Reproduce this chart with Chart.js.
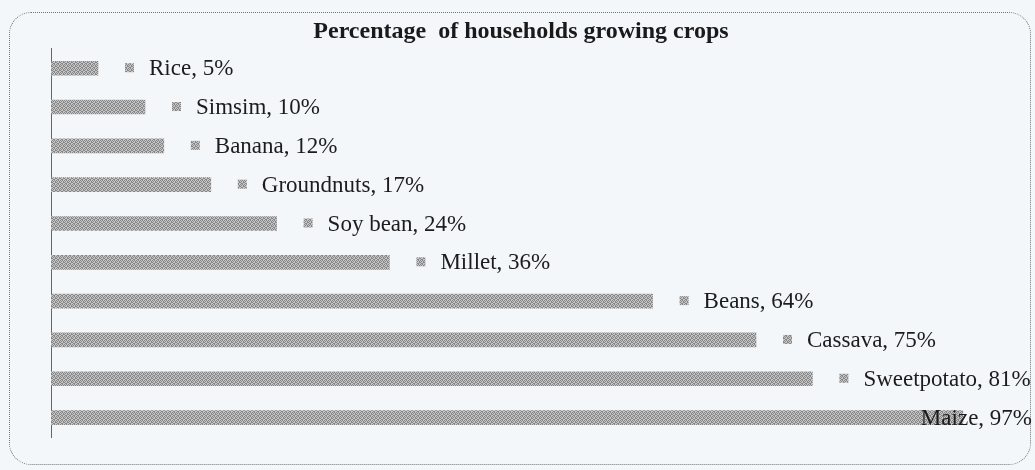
<!DOCTYPE html>
<html lang="en">
<head>
<meta charset="UTF-8">
<title>Percentage of households growing crops</title>
<style>
  html, body { margin: 0; padding: 0; background: #f3f7fa; }
  .frame { position: relative; width: 1035px; height: 470px; }
  .frame:before {
    content: '';
    position: absolute;
    left: 9px; top: 12px; right: 4px; bottom: 5px;
    border: 1px dotted #707478;
    border-radius: 22px;
  }
  canvas { position: absolute; left: 0; top: 0; }
</style>
</head>
<body>

<div class="frame"><canvas id="chart" width="1035" height="470"></canvas></div>

<script src="https://cdn.jsdelivr.net/npm/chart.js"></script>
<script>
  const crops = ['Rice', 'Simsim', 'Banana', 'Groundnuts', 'Soy bean', 'Millet', 'Beans', 'Cassava', 'Sweetpotato', 'Maize'];
  const percent = [5, 10, 12, 17, 24, 36, 64, 75, 81, 97];
  const axisRange = [0, 100];

  // halftone-ish grey like the scanned print
  const tile = document.createElement('canvas');
  tile.width = 4;
  tile.height = 4;
  const t = tile.getContext('2d');
  t.fillStyle = '#c6c6c6';
  t.fillRect(0, 0, 4, 4);
  t.fillStyle = '#868686';
  const dots = [[0, 0], [2, 0], [1, 1], [3, 2], [0, 2], [2, 3], [1, 3], [3, 1]];
  dots.forEach(([x, y]) => t.fillRect(x, y, 1, 1));

  const ctx = document.getElementById('chart').getContext('2d');
  const barFill = ctx.createPattern(tile, 'repeat');

  const barLabels = {
    id: 'barLabels',
    afterDatasetsDraw(chart) {
      const c = chart.ctx;
      const meta = chart.getDatasetMeta(0);
      c.save();
      c.font = '23px "Liberation Serif", "Times New Roman", serif';
      c.textBaseline = 'middle';
      meta.data.forEach((bar, i) => {
        const text = crops[i] + ', ' + percent[i] + '%';
        const w = c.measureText(text).width;
        const limit = chart.width - 3;
        const shift = Math.max(0, bar.x + 51 + w - limit); // keep label inside the box
        c.fillStyle = barFill;
        c.fillRect(bar.x + 27 - shift, bar.y - 5, 9, 9);
        c.fillStyle = '#1c1c1c';
        c.fillText(text, bar.x + 51 - shift, bar.y + 1);
      });
      c.restore();
    }
  };

  new Chart(ctx, {
    type: 'bar',
    data: {
      labels: crops,
      datasets: [{
        label: 'Households',
        data: percent,
        backgroundColor: barFill,
        borderWidth: 0,
        barThickness: 14
      }]
    },
    options: {
      indexAxis: 'y',
      responsive: false,
      animation: false,
      layout: { padding: { left: 51, right: 44, top: 2, bottom: 33 } },
      scales: {
        x: { type: 'linear', min: axisRange[0], max: axisRange[1], display: false },
        y: {
          ticks: { display: false },
          grid: { display: false, drawTicks: false },
          border: { display: true, color: '#666', width: 1, dash: [1, 1] }
        }
      },
      plugins: {
        legend: { display: false },
        tooltip: { enabled: false },
        title: {
          display: true,
          text: 'Percentage  of households growing crops',
          color: '#1a1a1a',
          font: { family: '"Liberation Serif", "Times New Roman", serif', size: 24, weight: 'bold' },
          padding: { top: 15, bottom: 3 }
        }
      }
    },
    plugins: [barLabels]
  });
</script>

</body>
</html>
